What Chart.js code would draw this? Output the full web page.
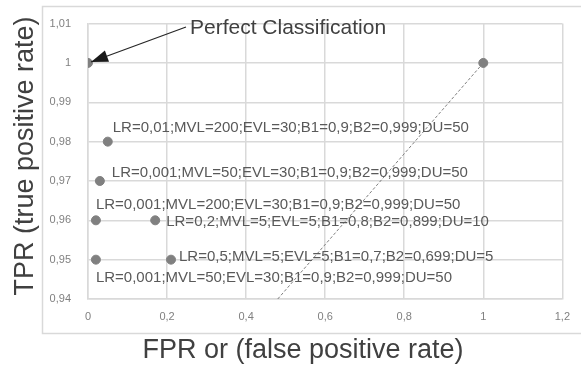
<!DOCTYPE html>
<html>
<head>
<meta charset="utf-8">
<script src="https://cdn.jsdelivr.net/npm/chart.js@4"></script>
<style>
html,body{margin:0;padding:0;background:#fff;}
#wrap{width:581px;height:368px;}
</style>
</head>
<body>
<div id="wrap"><canvas id="c" width="581" height="368"></canvas></div>
<script>
// ---- data ----
const fprValues = [0, 1, 0.05, 0.03, 0.02, 0.17, 0.02, 0.21];
const tprValues = [1, 1, 0.98, 0.97, 0.96, 0.96, 0.95, 0.95];
const pointLabels = [
  '',
  '',
  'LR=0,01;MVL=200;EVL=30;B1=0,9;B2=0,999;DU=50',
  'LR=0,001;MVL=50;EVL=30;B1=0,9;B2=0,999;DU=50',
  'LR=0,001;MVL=200;EVL=30;B1=0,9;B2=0,999;DU=50',
  'LR=0,2;MVL=5;EVL=5;B1=0,8;B2=0,899;DU=10',
  'LR=0,001;MVL=50;EVL=30;B1=0,9;B2=0,999;DU=50',
  'LR=0,5;MVL=5;EVL=5;B1=0,7;B2=0,699;DU=5'
];
const refLineX = [1, 0.48];
const refLineY = [1, 0.94];
const xTickValues = [0, 0.2, 0.4, 0.6, 0.8, 1, 1.2];
const xTickLabels = ['0', '0,2', '0,4', '0,6', '0,8', '1', '1,2'];
const yTickValues = [0.94, 0.95, 0.96, 0.97, 0.98, 0.99, 1, 1.01];
const yTickLabels = ['0,94', '0,95', '0,96', '0,97', '0,98', '0,99', '1', '1,01'];
const annotationText = 'Perfect Classification';
const xTitle = 'FPR or (false positive rate)';
const yTitle = 'TPR (true positive rate)';

// ---- styling (pixel offsets of labels from their points) ----
const labelOffsets = [null, null, [5,-14], [12,-8], [0,-15], [11,2], [0,18], [8,-3]];

const FONT = '"Liberation Sans", Arial, sans-serif';

const decor = {
  id: 'decor',
  beforeDraw(chart) {
    const ctx = chart.ctx;
    ctx.save();
    ctx.strokeStyle = '#d9d9d9';
    ctx.lineWidth = 1.5;
    ctx.strokeRect(42.5, 6.5, 545, 327);
    ctx.restore();
  },
  afterDatasetsDraw(chart) {
    const ctx = chart.ctx;
    const xs = chart.scales.x, ys = chart.scales.y;
    ctx.save();
    ctx.font = '15px ' + FONT;
    ctx.fillStyle = '#595959';
    ctx.textBaseline = 'middle';
    ctx.textAlign = 'left';
    for (let i = 0; i < pointLabels.length; i++) {
      if (!pointLabels[i]) continue;
      const px = xs.getPixelForValue(fprValues[i]);
      const py = ys.getPixelForValue(tprValues[i]);
      const o = labelOffsets[i];
      ctx.fillText(pointLabels[i], px + o[0], py + o[1]);
    }
    // Perfect classification arrow
    const tx = xs.getPixelForValue(fprValues[0]) + 3;
    const ty = ys.getPixelForValue(tprValues[0]) - 1;
    const sx = tx + 95, sy = ty - 35;
    ctx.strokeStyle = '#262626';
    ctx.fillStyle = '#1a1a1a';
    ctx.lineWidth = 1.2;
    ctx.beginPath();
    ctx.moveTo(sx, sy);
    ctx.lineTo(tx, ty);
    ctx.stroke();
    const ang = Math.atan2(ty - sy, tx - sx);
    const L = 17, W = 6;
    const bx = tx - L * Math.cos(ang), by = ty - L * Math.sin(ang);
    ctx.beginPath();
    ctx.moveTo(tx, ty);
    ctx.lineTo(bx + W * Math.sin(ang), by - W * Math.cos(ang));
    ctx.lineTo(bx - W * Math.sin(ang), by + W * Math.cos(ang));
    ctx.closePath();
    ctx.fill();
    ctx.font = '21px ' + FONT;
    ctx.fillStyle = '#404040';
    ctx.fillText(annotationText, sx + 4, sy + 1);

    // axis titles
    ctx.font = '27px ' + FONT;
    ctx.fillStyle = '#404040';
    ctx.textAlign = 'center';
    ctx.textBaseline = 'alphabetic';
    ctx.fillText(xTitle, 303, 358);
    ctx.translate(33, 156);
    ctx.rotate(-Math.PI / 2);
    ctx.fillText(yTitle, 0, 0);
    ctx.restore();
  }
};

new Chart(document.getElementById('c'), {
  type: 'scatter',
  data: {
    datasets: [
      {
        data: fprValues.map((x, i) => ({x: x, y: tprValues[i]})),
        backgroundColor: '#808080',
        borderColor: '#808080',
        pointRadius: 4.5,
        pointHoverRadius: 4.5
      },
      {
        type: 'line',
        data: refLineX.map((x, i) => ({x: x, y: refLineY[i]})),
        borderColor: '#7f7f7f',
        borderWidth: 1,
        borderDash: [3, 2],
        pointRadius: 0,
        fill: false
      }
    ]
  },
  plugins: [decor],
  options: {
    responsive: false,
    animation: false,
    events: [],
    layout: {padding: {top: 23, right: 18, left: 0, bottom: 0}},
    plugins: {legend: {display: false}, tooltip: {enabled: false}},
    scales: {
      x: {
        type: 'linear', min: 0, max: 1.2,
        afterBuildTicks(s) { s.ticks = xTickValues.map(v => ({value: v})); },
        afterFit(s) { s.height = 69; },
        ticks: {
          callback: (v, i) => xTickLabels[i],
          color: '#808080', font: {family: FONT, size: 11}, padding: 11, maxRotation: 0
        },
        grid: {color: '#d9d9d9', lineWidth: 1.5, drawTicks: false},
        border: {color: '#d9d9d9', width: 1.5},
        title: {display: false}
      },
      y: {
        type: 'linear', min: 0.94, max: 1.01,
        afterBuildTicks(s) { s.ticks = yTickValues.map(v => ({value: v})); },
        afterFit(s) { s.width = 88; },
        ticks: {
          callback: (v, i) => yTickLabels[i],
          color: '#808080', font: {family: FONT, size: 11}, padding: 17
        },
        grid: {color: '#d9d9d9', lineWidth: 1.5, drawTicks: false},
        border: {color: '#d9d9d9', width: 1.5},
        title: {display: false}
      }
    }
  }
});
</script>
</body>
</html>
